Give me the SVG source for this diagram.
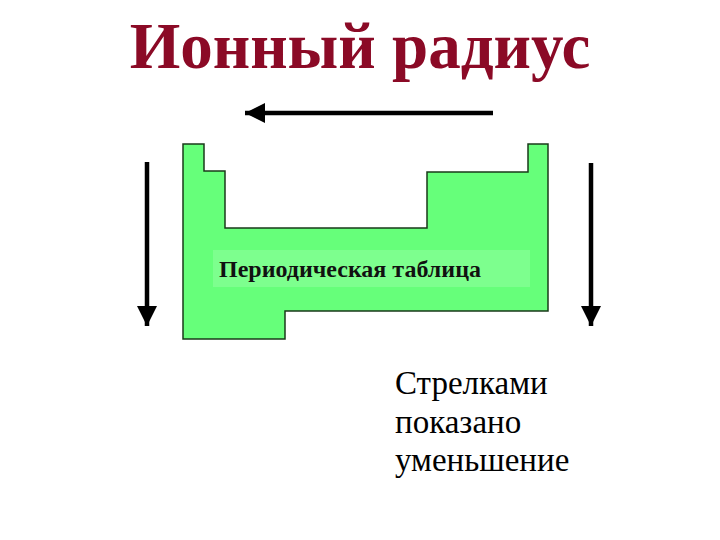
<svg xmlns="http://www.w3.org/2000/svg" width="720" height="540" viewBox="0 0 720 540">
<style>
.ser{font-family:"Liberation Serif","Times New Roman",serif}
.arr{stroke:#000;stroke-width:4.5;fill:none}
</style>
<defs>
<marker id="ah" markerUnits="userSpaceOnUse" markerWidth="22" markerHeight="20" refX="20" refY="10" orient="auto"><path d="M0,0 L20,10 L0,20 Z" fill="#000"/></marker>
</defs>
<rect width="720" height="540" fill="#fff"/>
<g id="title"><text class="ser" x="360" y="68" text-anchor="middle" font-size="65" font-weight="bold" fill="#8b0a26">Ионный радиус</text></g>
<g id="table">
<path d="M183,144 H204 V171 H225 V228 H427 V172 H528 V144 H548 V311 H285 V339 H183 Z" fill="#66ff7a" stroke="#1a3a1a" stroke-width="1.5"/>
<rect x="213" y="250" width="317" height="37" fill="#7dff8e"/>
<text class="ser" x="219" y="277" font-size="24" font-weight="bold" fill="#111">Периодическая таблица</text>
</g>
<g id="connectors">
<line class="arr" x1="493" y1="113" x2="245" y2="113" marker-end="url(#ah)"/>
<line class="arr" x1="147" y1="162" x2="147" y2="326" marker-end="url(#ah)"/>
<line class="arr" x1="591" y1="163" x2="591" y2="326" marker-end="url(#ah)"/>
</g>
<g id="note">
<text class="ser" font-size="33" fill="#000"><tspan x="395" y="394">Стрелками</tspan><tspan x="395" y="433">показано</tspan><tspan x="395" y="471">уменьшение</tspan></text>
</g>
</svg>
